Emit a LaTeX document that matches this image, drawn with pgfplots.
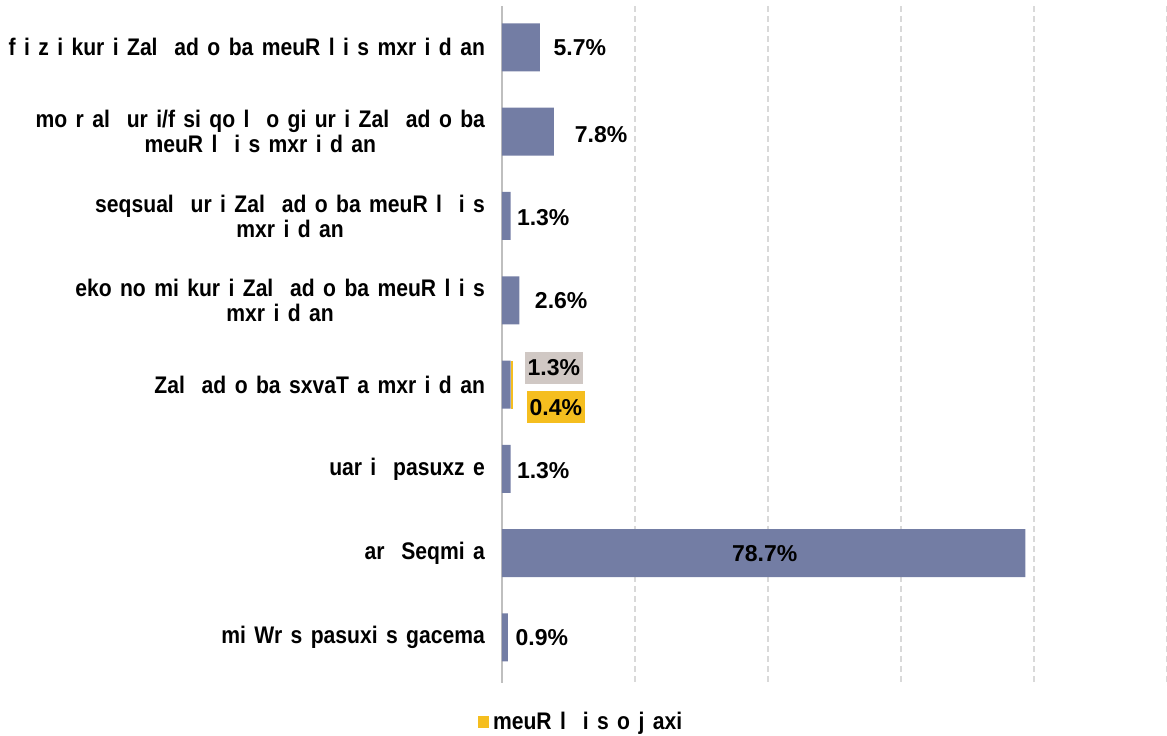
\documentclass[border=0pt]{standalone}
\usepackage{pgfplots}
\pgfplotsset{compat=1.18}
\usepackage{pgfplotstable}
\usepackage{fontspec}
\setmainfont{Liberation Sans}
\newfontfamily\nb[FakeStretch=0.88]{Liberation Sans}
\definecolor{barblue}{HTML}{737DA4}
\definecolor{baryellow}{HTML}{F5BE1F}
\definecolor{labgray}{HTML}{D0C8C4}
\definecolor{axgray}{HTML}{BFBFBF}
\definecolor{gridgray}{HTML}{D9D9D9}
\newcommand\catfont{\nb\bfseries\fontsize{12}{12.5}\selectfont\spaceskip=0.35em plus 0.1em}
\newcommand\valfont{\bfseries\fontsize{11.5}{12.5}\selectfont}

\pgfplotstableread{
y val
0 5.7
1 7.8
2 1.3
3 2.6
4 1.3
5 1.3
6 78.7
7 0.9
}\bluedata
\pgfplotstableread{
y val
0 0
1 0
2 0
3 0
4 0.4
5 0
6 0
7 0
}\yellowdata

\begin{document}
\begin{tikzpicture}
\useasboundingbox (0,0) rectangle (583.5pt,367.5pt);
\begin{axis}[
  at={(251pt,26pt)}, anchor=south west,
  scale only axis, width=332.5pt, height=338.5pt,
  xbar stacked, bar width=24pt,
  xmin=0, xmax=100, ymin=-0.49, ymax=7.54, y dir=reverse,
  xtick={0,20,...,100}, xticklabels={},
  xmajorgrids, major grid style={densely dashed, gridgray, line width=0.6pt},
  axis lines*=left,
  x axis line style={draw=none},
  y axis line style={-, axgray, line width=1pt},
  ytick={0,...,7}, major tick length=0pt,
  yticklabels={
    {f i z i kur i Zal \ ad o ba meuR l i s mxr i d an},
    {mo r al \ ur i/f si qo l \ o gi ur i Zal \ ad o ba\\meuR l \ i s mxr i d an},
    {seqsual \ ur i Zal \ ad o ba meuR l \ i s\\mxr i d an},
    {eko no mi kur i Zal \ ad o ba meuR l i s\\mxr i d an},
    {Zal \ ad o ba sxvaT a mxr i d an},
    {uar i \ pasuxz e},
    {ar \ Seqmi a},
    {mi Wr s pasuxi s gacema}},
  yticklabel style={align=center, font=\catfont, text=black, xshift=-5pt},
  legend style={at={(0.1203,-0.0576)}, anchor=center, draw=none, fill=none,
    font=\catfont, inner sep=0pt},
  legend image code/.code={\fill[#1] (0pt,-2.8pt) rectangle (5.6pt,2.8pt);},
]
\addplot[fill=barblue, draw=none, forget plot] table[x=val, y=y] {\bluedata};
\addplot[fill=baryellow, draw=none] table[x=val, y=y] {\yellowdata};
\addlegendentry{meuR l \ i s o j axi}

\coordinate (L0) at (axis cs:11.7,0);
\coordinate (L1) at (axis cs:14.9,1.03);
\coordinate (L2) at (axis cs:6.2,2.02);
\coordinate (L3) at (axis cs:8.9,3);
\coordinate (L4a) at (axis cs:7.8,3.80);
\coordinate (L4b) at (axis cs:8.1,4.27);
\coordinate (L5) at (axis cs:6.2,5.02);
\coordinate (L6) at (axis cs:39.5,6);
\coordinate (L7) at (axis cs:6.0,7);
\end{axis}
\node[font=\valfont] at (L0) {5.7\%};
\node[font=\valfont] at (L1) {7.8\%};
\node[font=\valfont] at (L2) {1.3\%};
\node[font=\valfont] at (L3) {2.6\%};
\node[font=\valfont, fill=labgray, minimum width=29pt, minimum height=16pt, inner sep=0pt] at (L4a) {1.3\%};
\node[font=\valfont, fill=baryellow, minimum width=29pt, minimum height=16pt, inner sep=0pt] at (L4b) {0.4\%};
\node[font=\valfont] at (L5) {1.3\%};
\node[font=\valfont] at (L6) {78.7\%};
\node[font=\valfont] at (L7) {0.9\%};
\end{tikzpicture}
\end{document}
